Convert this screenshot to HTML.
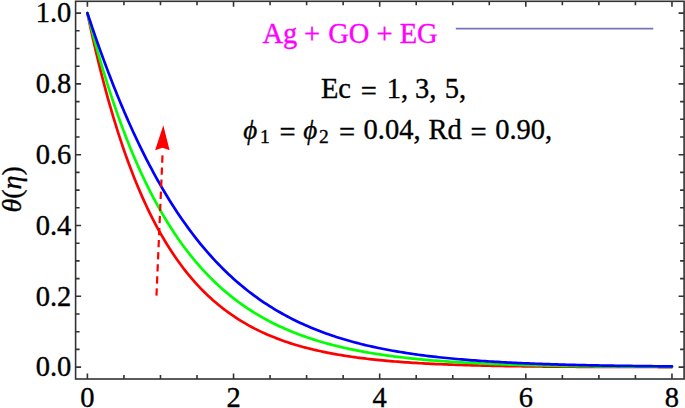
<!DOCTYPE html>
<html><head><meta charset="utf-8"><style>
html,body{margin:0;padding:0;background:#fff;}
body{width:685px;height:408px;overflow:hidden;position:relative;}
svg{position:absolute;left:0;top:0;}
text{font-family:"Liberation Serif", serif;stroke:currentColor;stroke-width:0.35px;}
</style></head><body>
<svg width="685" height="408" viewBox="0 0 685 408">
<rect x="75.6" y="1.3" width="608.5" height="377.7" fill="none" stroke="#333" stroke-width="1.6"/>
<path d="M87.40,379.0v-5.5 M87.40,1.3v5.5 M123.94,379.0v-4.0 M123.94,1.3v4.0 M160.47,379.0v-4.0 M160.47,1.3v4.0 M197.00,379.0v-4.0 M197.00,1.3v4.0 M233.54,379.0v-5.5 M233.54,1.3v5.5 M270.07,379.0v-4.0 M270.07,1.3v4.0 M306.61,379.0v-4.0 M306.61,1.3v4.0 M343.14,379.0v-4.0 M343.14,1.3v4.0 M379.68,379.0v-5.5 M379.68,1.3v5.5 M416.21,379.0v-4.0 M416.21,1.3v4.0 M452.75,379.0v-4.0 M452.75,1.3v4.0 M489.28,379.0v-4.0 M489.28,1.3v4.0 M525.82,379.0v-5.5 M525.82,1.3v5.5 M562.35,379.0v-4.0 M562.35,1.3v4.0 M598.89,379.0v-4.0 M598.89,1.3v4.0 M635.42,379.0v-4.0 M635.42,1.3v4.0 M671.96,379.0v-5.5 M671.96,1.3v5.5 M75.6,367.10h5.5 M684.1,367.10h-5.5 M75.6,349.40h4.0 M684.1,349.40h-4.0 M75.6,331.70h4.0 M684.1,331.70h-4.0 M75.6,314.00h4.0 M684.1,314.00h-4.0 M75.6,296.30h5.5 M684.1,296.30h-5.5 M75.6,278.60h4.0 M684.1,278.60h-4.0 M75.6,260.90h4.0 M684.1,260.90h-4.0 M75.6,243.20h4.0 M684.1,243.20h-4.0 M75.6,225.50h5.5 M684.1,225.50h-5.5 M75.6,207.80h4.0 M684.1,207.80h-4.0 M75.6,190.10h4.0 M684.1,190.10h-4.0 M75.6,172.40h4.0 M684.1,172.40h-4.0 M75.6,154.70h5.5 M684.1,154.70h-5.5 M75.6,137.00h4.0 M684.1,137.00h-4.0 M75.6,119.30h4.0 M684.1,119.30h-4.0 M75.6,101.60h4.0 M684.1,101.60h-4.0 M75.6,83.90h5.5 M684.1,83.90h-5.5 M75.6,66.20h4.0 M684.1,66.20h-4.0 M75.6,48.50h4.0 M684.1,48.50h-4.0 M75.6,30.80h4.0 M684.1,30.80h-4.0 M75.6,13.10h5.5 M684.1,13.10h-5.5" stroke="#333" stroke-width="1.6" fill="none"/>
<path d="M87.40,13.10 L88.64,18.96 L89.88,24.72 L91.12,30.39 L92.35,35.95 L93.59,41.42 L94.83,46.80 L96.07,52.09 L97.31,57.28 L98.55,62.39 L99.78,67.42 L101.02,72.35 L102.26,77.21 L103.50,81.98 L104.74,86.67 L105.98,91.28 L107.22,95.81 L108.45,100.27 L109.69,104.65 L110.93,108.96 L112.17,113.19 L113.41,117.36 L114.65,121.45 L115.88,125.48 L117.12,129.44 L118.36,133.33 L119.60,137.15 L120.84,140.92 L122.08,144.62 L123.32,148.25 L124.55,151.83 L125.79,155.35 L127.03,158.81 L128.27,162.21 L129.51,165.55 L130.75,168.84 L131.99,172.08 L133.22,175.26 L134.46,178.38 L135.70,181.46 L136.94,184.48 L138.18,187.46 L139.42,190.38 L140.65,193.26 L141.89,196.09 L143.13,198.87 L144.37,201.61 L145.61,204.30 L146.85,206.95 L148.09,209.55 L149.32,212.11 L150.56,214.63 L151.80,217.11 L153.04,219.54 L154.28,221.94 L155.52,224.30 L156.75,226.62 L157.99,228.90 L159.23,231.14 L160.47,233.35 L161.93,235.90 L164.49,240.27 L167.06,244.49 L169.62,248.56 L172.18,252.51 L174.75,256.32 L177.31,260.00 L179.87,263.56 L182.44,267.00 L185.00,270.33 L187.56,273.54 L190.12,276.65 L192.69,279.65 L195.25,282.56 L197.81,285.37 L200.38,288.09 L202.94,290.71 L205.50,293.25 L208.06,295.71 L210.63,298.08 L213.19,300.38 L215.75,302.60 L218.32,304.74 L220.88,306.82 L223.44,308.83 L226.01,310.77 L228.57,312.65 L231.13,314.46 L233.69,316.22 L236.26,317.92 L238.82,319.56 L241.38,321.15 L243.95,322.68 L246.51,324.17 L249.07,325.61 L251.63,327.00 L254.20,328.34 L256.76,329.64 L259.32,330.90 L261.89,332.11 L264.45,333.29 L267.01,334.43 L269.58,335.53 L272.14,336.59 L274.70,337.62 L277.26,338.62 L279.83,339.58 L282.39,340.51 L284.95,341.41 L287.52,342.28 L290.08,343.12 L292.64,343.94 L295.21,344.72 L297.77,345.48 L300.33,346.22 L302.89,346.93 L305.46,347.62 L308.02,348.29 L310.58,348.93 L313.15,349.55 L315.71,350.16 L318.27,350.74 L320.83,351.30 L323.40,351.85 L325.96,352.37 L328.52,352.88 L331.09,353.37 L333.65,353.85 L336.21,354.31 L338.78,354.75 L341.34,355.18 L343.90,355.60 L346.46,356.00 L349.03,356.39 L351.59,356.76 L354.15,357.12 L356.72,357.48 L359.28,357.81 L361.84,358.14 L364.41,358.46 L366.97,358.76 L369.53,359.06 L372.09,359.34 L374.66,359.62 L377.22,359.89 L379.78,360.14 L382.35,360.39 L384.91,360.63 L387.47,360.86 L390.03,361.09 L392.60,361.30 L395.16,361.51 L397.72,361.72 L400.29,361.91 L402.85,362.10 L405.41,362.28 L407.98,362.46 L410.54,362.63 L413.10,362.79 L415.66,362.95 L418.23,363.10 L420.79,363.25 L423.35,363.39 L425.92,363.53 L428.48,363.66 L431.04,363.79 L433.60,363.91 L436.17,364.03 L438.73,364.14 L441.29,364.26 L443.86,364.36 L446.42,364.47 L448.98,364.56 L451.55,364.66 L454.11,364.75 L456.67,364.84 L459.23,364.93 L461.80,365.01 L464.36,365.09 L466.92,365.17 L469.49,365.24 L472.05,365.31 L474.61,365.38 L477.18,365.45 L479.74,365.51 L482.30,365.58 L484.86,365.63 L487.43,365.69 L489.99,365.75 L492.55,365.80 L495.12,365.85 L497.68,365.90 L500.24,365.95 L502.80,365.99 L505.37,366.04 L507.93,366.08 L510.49,366.12 L513.06,366.16 L515.62,366.20 L518.18,366.24 L520.75,366.27 L523.31,366.30 L525.87,366.34 L528.43,366.37 L531.00,366.40 L533.56,366.43 L536.12,366.45 L538.69,366.48 L541.25,366.51 L543.81,366.53 L546.38,366.55 L548.94,366.58 L551.50,366.60 L554.06,366.62 L556.63,366.64 L559.19,366.66 L561.75,366.68 L564.32,366.70 L566.88,366.71 L569.44,366.73 L572.00,366.75 L574.57,366.76 L577.13,366.78 L579.69,366.79 L582.26,366.80 L584.82,366.82 L587.38,366.83 L589.95,366.84 L592.51,366.85 L595.07,366.86 L597.63,366.87 L600.20,366.88 L602.76,366.89 L605.32,366.90 L607.89,366.91 L610.45,366.92 L613.01,366.93 L615.57,366.93 L618.14,366.94 L620.70,366.95 L623.26,366.96 L625.83,366.96 L628.39,366.97 L630.95,366.98 L633.52,366.98 L636.08,366.99 L638.64,366.99 L641.20,367.00 L643.77,367.00 L646.33,367.01 L648.89,367.01 L651.46,367.01 L654.02,367.02 L656.58,367.02 L659.15,367.03 L661.71,367.03 L664.27,367.03 L666.83,367.04 L669.40,367.04 L671.96,367.04" stroke="#ff0000" stroke-width="2.7" fill="none" stroke-linejoin="round" stroke-linecap="round" shape-rendering="auto"/>
<path d="M87.40,13.10 L88.64,17.97 L89.88,22.77 L91.12,27.50 L92.35,32.17 L93.59,36.78 L94.83,41.32 L96.07,45.80 L97.31,50.21 L98.55,54.57 L99.78,58.86 L101.02,63.10 L102.26,67.27 L103.50,71.39 L104.74,75.46 L105.98,79.46 L107.22,83.42 L108.45,87.31 L109.69,91.16 L110.93,94.95 L112.17,98.68 L113.41,102.37 L114.65,106.01 L115.88,109.59 L117.12,113.13 L118.36,116.62 L119.60,120.06 L120.84,123.45 L122.08,126.80 L123.32,130.10 L124.55,133.35 L125.79,136.56 L127.03,139.73 L128.27,142.85 L129.51,145.93 L130.75,148.97 L131.99,151.97 L133.22,154.92 L134.46,157.83 L135.70,160.71 L136.94,163.54 L138.18,166.34 L139.42,169.10 L140.65,171.82 L141.89,174.50 L143.13,177.15 L144.37,179.76 L145.61,182.33 L146.85,184.87 L148.09,187.37 L149.32,189.84 L150.56,192.28 L151.80,194.68 L153.04,197.05 L154.28,199.39 L155.52,201.70 L156.75,203.97 L157.99,206.21 L159.23,208.43 L160.47,210.61 L161.93,213.14 L164.49,217.49 L167.06,221.72 L169.62,225.83 L172.18,229.83 L174.75,233.71 L177.31,237.48 L179.87,241.15 L182.44,244.72 L185.00,248.18 L187.56,251.55 L190.12,254.82 L192.69,258.01 L195.25,261.10 L197.81,264.11 L200.38,267.03 L202.94,269.87 L205.50,272.63 L208.06,275.31 L210.63,277.92 L213.19,280.46 L215.75,282.92 L218.32,285.32 L220.88,287.65 L223.44,289.91 L226.01,292.11 L228.57,294.25 L231.13,296.33 L233.69,298.35 L236.26,300.32 L238.82,302.22 L241.38,304.08 L243.95,305.88 L246.51,307.64 L249.07,309.34 L251.63,311.00 L254.20,312.61 L256.76,314.17 L259.32,315.69 L261.89,317.17 L264.45,318.61 L267.01,320.00 L269.58,321.36 L272.14,322.68 L274.70,323.96 L277.26,325.21 L279.83,326.42 L282.39,327.59 L284.95,328.74 L287.52,329.85 L290.08,330.93 L292.64,331.98 L295.21,333.00 L297.77,333.99 L300.33,334.95 L302.89,335.89 L305.46,336.80 L308.02,337.68 L310.58,338.54 L313.15,339.38 L315.71,340.19 L318.27,340.98 L320.83,341.74 L323.40,342.49 L325.96,343.21 L328.52,343.91 L331.09,344.59 L333.65,345.26 L336.21,345.90 L338.78,346.53 L341.34,347.14 L343.90,347.73 L346.46,348.30 L349.03,348.86 L351.59,349.40 L354.15,349.93 L356.72,350.44 L359.28,350.93 L361.84,351.42 L364.41,351.88 L366.97,352.34 L369.53,352.78 L372.09,353.21 L374.66,353.63 L377.22,354.03 L379.78,354.42 L382.35,354.81 L384.91,355.18 L387.47,355.54 L390.03,355.89 L392.60,356.23 L395.16,356.56 L397.72,356.88 L400.29,357.19 L402.85,357.49 L405.41,357.78 L407.98,358.07 L410.54,358.34 L413.10,358.61 L415.66,358.87 L418.23,359.12 L420.79,359.37 L423.35,359.61 L425.92,359.84 L428.48,360.06 L431.04,360.28 L433.60,360.49 L436.17,360.69 L438.73,360.89 L441.29,361.09 L443.86,361.27 L446.42,361.45 L448.98,361.63 L451.55,361.80 L454.11,361.97 L456.67,362.13 L459.23,362.29 L461.80,362.44 L464.36,362.58 L466.92,362.73 L469.49,362.86 L472.05,363.00 L474.61,363.13 L477.18,363.26 L479.74,363.38 L482.30,363.50 L484.86,363.61 L487.43,363.72 L489.99,363.83 L492.55,363.94 L495.12,364.04 L497.68,364.14 L500.24,364.23 L502.80,364.32 L505.37,364.41 L507.93,364.50 L510.49,364.59 L513.06,364.67 L515.62,364.75 L518.18,364.82 L520.75,364.90 L523.31,364.97 L525.87,365.04 L528.43,365.11 L531.00,365.17 L533.56,365.24 L536.12,365.30 L538.69,365.36 L541.25,365.42 L543.81,365.47 L546.38,365.53 L548.94,365.58 L551.50,365.63 L554.06,365.68 L556.63,365.73 L559.19,365.77 L561.75,365.82 L564.32,365.86 L566.88,365.90 L569.44,365.94 L572.00,365.98 L574.57,366.02 L577.13,366.06 L579.69,366.09 L582.26,366.13 L584.82,366.16 L587.38,366.19 L589.95,366.22 L592.51,366.25 L595.07,366.28 L597.63,366.31 L600.20,366.34 L602.76,366.37 L605.32,366.39 L607.89,366.42 L610.45,366.44 L613.01,366.46 L615.57,366.49 L618.14,366.51 L620.70,366.53 L623.26,366.55 L625.83,366.57 L628.39,366.59 L630.95,366.61 L633.52,366.62 L636.08,366.64 L638.64,366.66 L641.20,366.67 L643.77,366.69 L646.33,366.70 L648.89,366.72 L651.46,366.73 L654.02,366.74 L656.58,366.76 L659.15,366.77 L661.71,366.78 L664.27,366.79 L666.83,366.80 L669.40,366.82 L671.96,366.83" stroke="#00ff00" stroke-width="2.7" fill="none" stroke-linejoin="round" stroke-linecap="round" shape-rendering="auto"/>
<path d="M87.40,13.10 L88.64,16.84 L89.88,20.55 L91.12,24.23 L92.35,27.88 L93.59,31.51 L94.83,35.10 L96.07,38.66 L97.31,42.19 L98.55,45.69 L99.78,49.16 L101.02,52.60 L102.26,56.01 L103.50,59.39 L104.74,62.74 L105.98,66.06 L107.22,69.36 L108.45,72.62 L109.69,75.85 L110.93,79.06 L112.17,82.24 L113.41,85.39 L114.65,88.50 L115.88,91.60 L117.12,94.66 L118.36,97.69 L119.60,100.70 L120.84,103.68 L122.08,106.63 L123.32,109.55 L124.55,112.44 L125.79,115.31 L127.03,118.15 L128.27,120.96 L129.51,123.75 L130.75,126.51 L131.99,129.24 L133.22,131.95 L134.46,134.63 L135.70,137.28 L136.94,139.91 L138.18,142.51 L139.42,145.09 L140.65,147.64 L141.89,150.16 L143.13,152.66 L144.37,155.14 L145.61,157.59 L146.85,160.02 L148.09,162.42 L149.32,164.79 L150.56,167.15 L151.80,169.48 L153.04,171.78 L154.28,174.06 L155.52,176.32 L156.75,178.55 L157.99,180.76 L159.23,182.95 L160.47,185.12 L161.93,187.65 L164.49,192.00 L167.06,196.26 L169.62,200.43 L172.18,204.51 L174.75,208.50 L177.31,212.40 L179.87,216.21 L182.44,219.94 L185.00,223.58 L187.56,227.14 L190.12,230.63 L192.69,234.03 L195.25,237.35 L197.81,240.60 L200.38,243.78 L202.94,246.88 L205.50,249.91 L208.06,252.87 L210.63,255.76 L213.19,258.58 L215.75,261.34 L218.32,264.03 L220.88,266.65 L223.44,269.22 L226.01,271.72 L228.57,274.17 L231.13,276.55 L233.69,278.88 L236.26,281.16 L238.82,283.37 L241.38,285.54 L243.95,287.65 L246.51,289.71 L249.07,291.72 L251.63,293.68 L254.20,295.59 L256.76,297.46 L259.32,299.28 L261.89,301.05 L264.45,302.78 L267.01,304.47 L269.58,306.11 L272.14,307.72 L274.70,309.28 L277.26,310.81 L279.83,312.29 L282.39,313.74 L284.95,315.16 L287.52,316.53 L290.08,317.88 L292.64,319.18 L295.21,320.46 L297.77,321.70 L300.33,322.91 L302.89,324.09 L305.46,325.24 L308.02,326.36 L310.58,327.45 L313.15,328.52 L315.71,329.55 L318.27,330.56 L320.83,331.55 L323.40,332.50 L325.96,333.44 L328.52,334.35 L331.09,335.23 L333.65,336.09 L336.21,336.93 L338.78,337.75 L341.34,338.55 L343.90,339.32 L346.46,340.08 L349.03,340.81 L351.59,341.53 L354.15,342.22 L356.72,342.90 L359.28,343.56 L361.84,344.20 L364.41,344.83 L366.97,345.44 L369.53,346.03 L372.09,346.61 L374.66,347.17 L377.22,347.72 L379.78,348.25 L382.35,348.77 L384.91,349.27 L387.47,349.77 L390.03,350.24 L392.60,350.71 L395.16,351.16 L397.72,351.60 L400.29,352.03 L402.85,352.45 L405.41,352.85 L407.98,353.25 L410.54,353.63 L413.10,354.00 L415.66,354.37 L418.23,354.72 L420.79,355.07 L423.35,355.40 L425.92,355.73 L428.48,356.04 L431.04,356.35 L433.60,356.65 L436.17,356.94 L438.73,357.23 L441.29,357.50 L443.86,357.77 L446.42,358.03 L448.98,358.28 L451.55,358.53 L454.11,358.77 L456.67,359.00 L459.23,359.23 L461.80,359.45 L464.36,359.67 L466.92,359.88 L469.49,360.08 L472.05,360.28 L474.61,360.47 L477.18,360.66 L479.74,360.84 L482.30,361.01 L484.86,361.19 L487.43,361.35 L489.99,361.51 L492.55,361.67 L495.12,361.83 L497.68,361.97 L500.24,362.12 L502.80,362.26 L505.37,362.40 L507.93,362.53 L510.49,362.66 L513.06,362.79 L515.62,362.91 L518.18,363.03 L520.75,363.14 L523.31,363.26 L525.87,363.37 L528.43,363.47 L531.00,363.57 L533.56,363.67 L536.12,363.77 L538.69,363.87 L541.25,363.96 L543.81,364.05 L546.38,364.14 L548.94,364.22 L551.50,364.30 L554.06,364.38 L556.63,364.46 L559.19,364.54 L561.75,364.61 L564.32,364.68 L566.88,364.75 L569.44,364.82 L572.00,364.88 L574.57,364.95 L577.13,365.01 L579.69,365.07 L582.26,365.13 L584.82,365.18 L587.38,365.24 L589.95,365.29 L592.51,365.34 L595.07,365.39 L597.63,365.44 L600.20,365.49 L602.76,365.54 L605.32,365.58 L607.89,365.62 L610.45,365.67 L613.01,365.71 L615.57,365.75 L618.14,365.79 L620.70,365.83 L623.26,365.86 L625.83,365.90 L628.39,365.93 L630.95,365.97 L633.52,366.00 L636.08,366.03 L638.64,366.06 L641.20,366.09 L643.77,366.12 L646.33,366.15 L648.89,366.18 L651.46,366.20 L654.02,366.23 L656.58,366.25 L659.15,366.28 L661.71,366.30 L664.27,366.33 L666.83,366.35 L669.40,366.37 L671.96,366.39" stroke="#0000ff" stroke-width="2.7" fill="none" stroke-linejoin="round" stroke-linecap="round" shape-rendering="auto"/>
<path d="M162.5,155.4 L156.4,297.4" stroke="#ff0000" stroke-width="2.2" fill="none" stroke-dasharray="7.3 4.8"/>
<path d="M163.3,125.3 L169.6,150.2 L162.5,147.8 L155.1,150.2 Z" fill="#ff0000"/>
<path d="M455.8,28.7 H653.3" stroke="#7474bc" stroke-width="1.8"/>
<text x="71.3" y="376.30" text-anchor="end" font-size="28.5">0.0</text>
<text x="71.3" y="305.50" text-anchor="end" font-size="28.5">0.2</text>
<text x="71.3" y="234.70" text-anchor="end" font-size="28.5">0.4</text>
<text x="71.3" y="163.90" text-anchor="end" font-size="28.5">0.6</text>
<text x="71.3" y="93.10" text-anchor="end" font-size="28.5">0.8</text>
<text x="71.3" y="22.30" text-anchor="end" font-size="28.5">1.0</text>
<text x="87.40" y="407" text-anchor="middle" font-size="28.5">0</text>
<text x="233.54" y="407" text-anchor="middle" font-size="28.5">2</text>
<text x="379.68" y="407" text-anchor="middle" font-size="28.5">4</text>
<text x="525.82" y="407" text-anchor="middle" font-size="28.5">6</text>
<text x="671.96" y="407" text-anchor="middle" font-size="28.5">8</text>
<text transform="translate(21,212.5) rotate(-90)" font-size="28"><tspan font-style="italic">θ</tspan>(<tspan font-style="italic">η</tspan>)</text>
<text x="262.5" y="43.2" font-size="28.5" fill="#ff00ff" style="color:#ff00ff">Ag</text>
<text x="304.1" y="43.4" font-size="28.5" fill="#ff00ff" style="color:#ff00ff">+</text>
<text x="328.2" y="43.2" font-size="28.5" fill="#ff00ff" style="color:#ff00ff">GO</text>
<text x="376.5" y="43.4" font-size="28.5" fill="#ff00ff" style="color:#ff00ff">+</text>
<text x="399.7" y="43.2" font-size="28.5" fill="#ff00ff" style="color:#ff00ff">EG</text>
<text x="320.9" y="97.5" font-size="28.5">Ec</text>
<text x="360.8" y="100.7" font-size="28.5">=</text>
<text x="386.8" y="97.5" font-size="28.5">1,</text>
<text x="414.9" y="97.5" font-size="28.5">3,</text>
<text x="444.8" y="97.5" font-size="28.5">5,</text>
<text x="243.3" y="138.7" font-size="27" font-style="italic">ϕ</text>
<text x="279.5" y="141.8" font-size="28.5">=</text>
<text x="303.3" y="138.7" font-size="27" font-style="italic">ϕ</text>
<text x="338.9" y="141.8" font-size="28.5">=</text>
<text x="363.6" y="138.5" font-size="28.5">0.04,</text>
<text x="428.5" y="138.5" font-size="28.5">Rd</text>
<text x="470.5" y="141.8" font-size="28.5">=</text>
<text x="495.2" y="138.5" font-size="28.5">0.90,</text>
<text x="260.0" y="143.4" font-size="19.5">1</text>
<text x="318.9" y="143.4" font-size="19.5">2</text>
</svg>
</body></html>
